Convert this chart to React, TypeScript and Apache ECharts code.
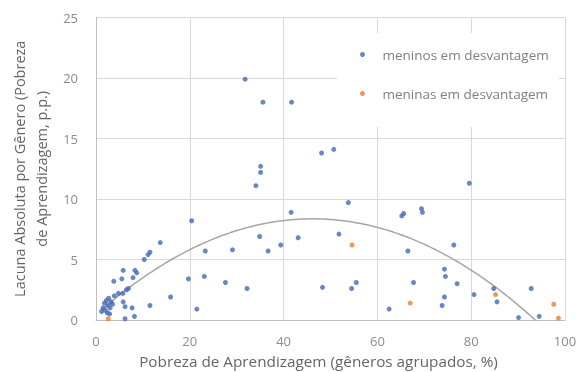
import React, { useEffect, useRef } from "react";
import * as echarts from "echarts";

// Learning poverty (pooled genders, %) vs absolute gender gap (p.p.)
const boysX = [
  1.2, 1.5, 1.8, 2.0, 2.2, 2.4, 2.5, 2.7, 2.9, 3.0, 3.2, 3.5,
  3.8, 3.9, 4.8, 5.5, 5.7, 5.8, 5.8, 6.2, 6.2, 6.5, 6.9, 7.7, 7.9, 8.2, 8.3, 8.7,
  10.3, 11.1, 11.5, 11.5, 13.7, 15.9,
  19.7, 20.4, 21.5, 23.1, 23.3, 27.6, 29.1, 31.8, 32.2, 34.1, 34.9, 35.1, 35.1, 35.6,
  36.7, 39.4, 41.6, 41.7, 43.1, 48.1, 48.3, 50.7, 51.8, 53.8, 54.5, 55.5,
  62.5, 65.2, 65.6, 66.5, 67.7, 69.4, 69.6, 73.8, 74.3, 74.3, 74.5, 76.3, 77.0,
  79.6, 80.6, 84.8, 85.5, 90.1, 92.8, 94.5,
];
const boysY = [
  0.7, 1.0, 1.4, 0.8, 1.6, 0.6, 1.2, 1.8, 0.5, 1.0, 1.5, 1.3,
  3.2, 2.0, 2.2, 3.4, 2.2, 4.1, 1.5, 1.1, 0.1, 2.5, 2.6, 1.0, 3.5, 0.3, 4.1, 3.9,
  5.0, 5.4, 5.6, 1.2, 6.4, 1.9,
  3.4, 8.2, 0.9, 3.6, 5.7, 3.1, 5.8, 19.9, 2.6, 11.1, 6.9, 12.2, 12.7, 18.0,
  5.7, 6.2, 8.9, 18.0, 6.8, 13.8, 2.7, 14.1, 7.1, 9.7, 2.6, 3.1,
  0.9, 8.6, 8.8, 5.7, 3.1, 9.2, 8.9, 1.2, 1.9, 4.2, 3.6, 6.2, 3.0,
  11.3, 2.1, 2.6, 1.5, 0.2, 2.6, 0.3,
];
const girlsX = [2.6, 54.6, 67.0, 85.2, 97.6, 98.6];
const girlsY = [0.1, 6.2, 1.4, 2.1, 1.3, 0.15];

const seriesNames = ["meninos em desvantagem", "meninas em desvantagem"];
const xTitle = "Pobreza de Aprendizagem (gêneros agrupados, %)";
const yTitle = "Lacuna Absoluta por Gênero (Pobreza\nde Aprendizagem, p.p.)";

// Least-squares 2nd order polynomial over all points
function quadFit(xs: number[], ys: number[]) {
  const n = xs.length;
  let s1 = 0, s2 = 0, s3 = 0, s4 = 0, t0 = 0, t1 = 0, t2 = 0;
  for (let i = 0; i < n; i++) {
    const x = xs[i], y = ys[i];
    s1 += x; s2 += x * x; s3 += x * x * x; s4 += x * x * x * x;
    t0 += y; t1 += x * y; t2 += x * x * y;
  }
  const M = [
    [n, s1, s2, t0],
    [s1, s2, s3, t1],
    [s2, s3, s4, t2],
  ];
  for (let c = 0; c < 3; c++) {
    for (let r = c + 1; r < 3; r++) {
      const f = M[r][c] / M[c][c];
      for (let k = c; k < 4; k++) M[r][k] -= f * M[c][k];
    }
  }
  const a = [0, 0, 0];
  for (let r = 2; r >= 0; r--) {
    let s = M[r][3];
    for (let k = r + 1; k < 3; k++) s -= M[r][k] * a[k];
    a[r] = s / M[r][r];
  }
  return a; // c0, c1, c2
}

export default function App() {
  const ref = useRef<HTMLDivElement>(null);
  useEffect(() => {
    if (!ref.current) return;
    const chart = echarts.init(ref.current, undefined, { renderer: "svg" });
    const allX = boysX.concat(girlsX);
    const allY = boysY.concat(girlsY);
    const [c0, c1, c2] = quadFit(allX, allY);
    const minX = Math.min(...allX);
    const maxX = Math.max(...allX);
    const trend: number[][] = [];
    for (let x = minX; x <= maxX + 1e-9; x += 0.5) trend.push([x, c0 + c1 * x + c2 * x * x]);

    const font = "'Open Sans', sans-serif";
    chart.setOption({
      animation: false,
      textStyle: { fontFamily: font },
      grid: {
        left: 96,
        right: 15,
        top: 17.5,
        bottom: 52,
        outerBoundsMode: "none",
      },
      xAxis: {
        type: "value",
        min: 0,
        max: 100,
        interval: 20,
        name: xTitle,
        nameLocation: "middle",
        nameGap: 33,
        nameTextStyle: {
          fontSize: 15.3,
          lineHeight: 16,
          color: "#666666",
          padding: [0, 24, 0, 0],
        },
        axisLine: { lineStyle: { color: "#bfbfbf" } },
        axisTick: { show: false },
        axisLabel: { fontSize: 13, color: "#8c8c8c", margin: 14 },
        splitLine: { lineStyle: { color: "#d9d9d9" } },
      },
      yAxis: {
        type: "value",
        min: 0,
        max: 25,
        interval: 5,
        name: yTitle,
        nameLocation: "middle",
        nameGap: 43,
        nameTextStyle: { fontSize: 14.5, color: "#666666", lineHeight: 22 },
        axisLine: { show: true, lineStyle: { color: "#bfbfbf" } },
        axisTick: { show: false },
        axisLabel: { fontSize: 13, color: "#8c8c8c", margin: 18 },
        splitLine: { lineStyle: { color: "#d9d9d9" } },
      },
      legend: {
        orient: "vertical",
        left: 337,
        top: 33,
        padding: [14, 10, 26, 23],
        backgroundColor: "#ffffff",
        itemWidth: 30,
        itemHeight: 5,
        itemGap: 24,
        textStyle: { fontSize: 13.5, color: "#808080", lineHeight: 15 },
        data: seriesNames,
      },
      series: [
        {
          name: seriesNames[0],
          type: "scatter",
          symbol: "circle",
          symbolSize: 5,
          itemStyle: { color: "#4569b5" },
          data: boysX.map((x, i) => [x, boysY[i]]),
          z: 3,
        },
        {
          name: seriesNames[1],
          type: "scatter",
          symbol: "circle",
          symbolSize: 5,
          itemStyle: { color: "#ED7D31" },
          data: girlsX.map((x, i) => [x, girlsY[i]]),
          z: 3,
        },
        {
          name: "tendência",
          type: "line",
          showSymbol: false,
          symbol: "none",
          silent: true,
          clip: true,
          lineStyle: { color: "#a6a6a6", width: 1.5 },
          data: trend,
          z: 2,
        },
      ],
    });
    return () => chart.dispose();
  }, []);
  return (
    <div
      ref={ref}
      style={{ position: "fixed", left: 0, top: 0, width: 580, height: 372 }}
    />
  );
}
